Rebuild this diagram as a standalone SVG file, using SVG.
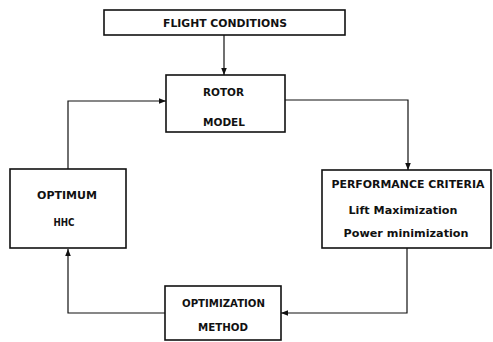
<svg xmlns="http://www.w3.org/2000/svg" width="493" height="342" viewBox="0 0 493 342">
<style>
.box{fill:#fff;stroke:#111;stroke-width:1.6}
.cap{font-family:"DejaVu Sans","Liberation Sans",sans-serif;font-weight:bold;font-size:10px;fill:#111;text-anchor:middle}
.low{font-family:"DejaVu Sans","Liberation Sans",sans-serif;font-weight:bold;font-size:11px;fill:#111;text-anchor:middle}
.ln{fill:none;stroke:#111;stroke-width:1.2}
</style>
<defs>
<marker id="ah" viewBox="0 0 10 10" refX="10" refY="5" markerWidth="7" markerHeight="7" orient="auto" markerUnits="userSpaceOnUse">
<path d="M0,1 L10,5 L0,9 z" fill="#111"/>
</marker>
</defs>
<rect width="493" height="342" fill="#fff"/>
<g id="connectors">
<path class="ln" d="M224,35 V75" marker-end="url(#ah)"/>
<path class="ln" d="M285,100 H408 V170" marker-end="url(#ah)"/>
<path class="ln" d="M407,248 V313 H281" marker-end="url(#ah)"/>
<path class="ln" d="M165,313 H68 V249" marker-end="url(#ah)"/>
<path class="ln" d="M68,169 V101 H166" marker-end="url(#ah)"/>
</g>
<g id="flight-conditions">
<rect class="box" x="104" y="10" width="241" height="25"/>
<text class="cap" x="225" y="27" textLength="124" lengthAdjust="spacingAndGlyphs">FLIGHT CONDITIONS</text>
</g>
<g id="rotor-model">
<rect class="box" x="166" y="75" width="119" height="57"/>
<text class="cap" x="223.5" y="96" textLength="41" lengthAdjust="spacingAndGlyphs">ROTOR</text>
<text class="cap" x="224" y="126" textLength="42" lengthAdjust="spacingAndGlyphs">MODEL</text>
</g>
<g id="performance-criteria">
<rect class="box" x="322" y="170" width="169" height="78"/>
<text class="cap" x="408" y="188" textLength="153" lengthAdjust="spacingAndGlyphs">PERFORMANCE CRITERIA</text>
<text class="low" x="403" y="214" textLength="109" lengthAdjust="spacingAndGlyphs">Lift Maximization</text>
<text class="low" x="406" y="237" textLength="125" lengthAdjust="spacingAndGlyphs">Power minimization</text>
</g>
<g id="optimization-method">
<rect class="box" x="165" y="286" width="116" height="54"/>
<text class="cap" x="223.5" y="307" textLength="83" lengthAdjust="spacingAndGlyphs">OPTIMIZATION</text>
<text class="cap" x="223" y="331" textLength="50" lengthAdjust="spacingAndGlyphs">METHOD</text>
</g>
<g id="optimum-hhc">
<rect class="box" x="10" y="169" width="116" height="79"/>
<text class="cap" x="67" y="199" textLength="60" lengthAdjust="spacingAndGlyphs">OPTIMUM</text>
<text class="cap" x="64" y="226" textLength="21" lengthAdjust="spacingAndGlyphs">HHC</text>
</g>
</svg>
